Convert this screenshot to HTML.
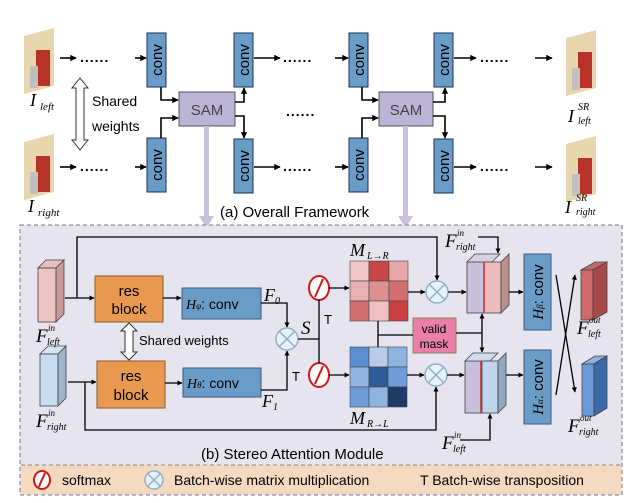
<!DOCTYPE html>
<html><head><meta charset="utf-8"><style>
body{margin:0;background:#fff}
svg{display:block;font-family:"Liberation Sans",sans-serif}
.it{font-family:"Liberation Serif",serif;font-style:italic}
</style></head><body>
<svg width="631" height="503" viewBox="0 0 631 503" xmlns="http://www.w3.org/2000/svg">
<defs>
<marker id="a" viewBox="0 0 10 10" refX="9" refY="5" markerWidth="4" markerHeight="4" orient="auto"><path d="M0,0L10,5L0,10z" fill="#000"/></marker>
<g id="img">
<polygon points="0,8 30,0 30,58 0,66" fill="#e8d6ae"/>
<rect x="12" y="22" width="14" height="36" fill="#b8322a"/>
<rect x="6" y="38" width="8" height="22" fill="#c0c0c0"/>
</g>
<g id="cv"><rect width="19" height="54" fill="#6a9cc8" stroke="#1a3050" stroke-width="1"/></g>
</defs>

<use href="#img" x="24" y="28"/>
<use href="#img" x="24" y="134"/>
<use href="#img" x="566" y="30"/>
<use href="#img" x="566" y="136"/>
<g class="it">
<text x="30" y="106" font-size="18">I</text><text x="40" y="110" font-size="11">left</text>
<text x="28" y="212" font-size="18">I</text><text x="38" y="216" font-size="11">right</text>
<text x="568" y="122" font-size="18">I</text><text x="578" y="110" font-size="10">SR</text><text x="578" y="124" font-size="10">left</text>
<text x="565" y="213" font-size="18">I</text><text x="576" y="201" font-size="10">SR</text><text x="576" y="215" font-size="10">right</text>
</g>

<g font-size="15" fill="#000">
<use href="#cv" x="147" y="33"/><use href="#cv" x="147" y="138"/>
<use href="#cv" x="234" y="33"/><use href="#cv" x="234" y="139"/>
<use href="#cv" x="349" y="33"/><use href="#cv" x="349" y="138"/>
<use href="#cv" x="434" y="33"/><use href="#cv" x="434" y="139"/>
<text transform="translate(162,60) rotate(-90)" text-anchor="middle">conv</text>
<text transform="translate(162,165) rotate(-90)" text-anchor="middle">conv</text>
<text transform="translate(249,60) rotate(-90)" text-anchor="middle">conv</text>
<text transform="translate(249,166) rotate(-90)" text-anchor="middle">conv</text>
<text transform="translate(364,60) rotate(-90)" text-anchor="middle">conv</text>
<text transform="translate(364,165) rotate(-90)" text-anchor="middle">conv</text>
<text transform="translate(449,60) rotate(-90)" text-anchor="middle">conv</text>
<text transform="translate(449,166) rotate(-90)" text-anchor="middle">conv</text>
</g>
<rect x="179" y="92" width="56" height="34" fill="#bcb4d6" stroke="#555" stroke-width="1"/>
<rect x="379" y="92" width="54" height="34" fill="#bcb4d6" stroke="#555" stroke-width="1"/>
<text x="207" y="115" font-size="15" text-anchor="middle" fill="#444">SAM</text>
<text x="406" y="115" font-size="15" text-anchor="middle" fill="#444">SAM</text>
<g fill="#c8c0dc"><rect x="204" y="126" width="5" height="92"/><polygon points="199,216 214,216 206.5,228"/>
<rect x="403" y="126" width="5" height="92"/><polygon points="398,216 413,216 405.5,228"/></g>

<g stroke="#000" stroke-width="1.6" fill="none" marker-end="url(#a)">
<line x1="60" y1="58" x2="76" y2="58"/><line x1="135" y1="58" x2="146" y2="58"/>
<line x1="60" y1="167" x2="76" y2="167"/><line x1="135" y1="167" x2="146" y2="167"/>
<line x1="254" y1="58" x2="280" y2="58"/><line x1="335" y1="58" x2="348" y2="58"/>
<line x1="254" y1="167" x2="280" y2="167"/><line x1="335" y1="167" x2="348" y2="167"/>
<line x1="454" y1="58" x2="476" y2="58"/><line x1="535" y1="58" x2="552" y2="58"/>
<line x1="454" y1="167" x2="476" y2="167"/><line x1="535" y1="167" x2="552" y2="167"/>
<polyline points="161,87 161,100 178,100"/><polyline points="161,138 161,118 178,118"/>
<polyline points="235,102 244,102 244,88"/><polyline points="235,116 244,116 244,138"/>
<polyline points="362,87 362,100 378,100"/><polyline points="362,138 362,118 378,118"/>
<polyline points="433,102 445,102 445,88"/><polyline points="433,116 445,116 445,138"/>
</g>
<g font-size="14" font-weight="bold" letter-spacing="1">
<text x="80" y="62">......</text><text x="80" y="171">......</text>
<text x="283" y="62">......</text><text x="283" y="171">......</text>
<text x="286" y="116">......</text>
<text x="480" y="62">......</text><text x="480" y="171">......</text>
</g>
<polygon points="80,78 88,88 84,88 84,140 88,140 80,150 72,140 76,140 76,88 72,88" fill="#fff" stroke="#333"/>
<text x="92" y="106" font-size="14">Shared</text>
<text x="92" y="131" font-size="14">weights</text>
<text x="220" y="217" font-size="15">(a)  Overall Framework</text>

<rect x="20" y="225" width="602" height="270" fill="#e6e4ee" stroke="#777" stroke-dasharray="4,3"/>
<rect x="21" y="465" width="600" height="29" fill="#f5d9c0"/>
<line x1="21" y1="465" x2="621" y2="465" stroke="#888" stroke-dasharray="4,3"/>

<g stroke="#444" stroke-width="0.8">
<polygon points="38,268 56,268 64,260 46,260" fill="#e7c1c0"/><rect x="38" y="268" width="18" height="54" fill="#ecc4c2"/><polygon points="56,268 64,260 64,314 56,322" fill="#c8999a"/>
<polygon points="40,354 58,354 66,346 48,346" fill="#d8e6f4"/><rect x="40" y="354" width="18" height="52" fill="#c8dcf0"/><polygon points="58,354 66,346 66,398 58,406" fill="#9fb5cc"/>
<polygon points="581,270 593,270 607,262 595,262" fill="#c86868"/><rect x="581" y="270" width="12" height="50" fill="#d06a6a"/><polygon points="593,270 607,262 607,312 593,320" fill="#a84a4a"/>
<polygon points="582,364 594,364 607,356 595,356" fill="#8ab2e0"/><rect x="582" y="364" width="12" height="52" fill="#6a9ad8"/><polygon points="594,364 607,356 607,408 594,416" fill="#3a6aa8"/>
</g>
<g class="it">
<text x="36" y="342" font-size="19">F</text><text x="48" y="331" font-size="9">in</text><text x="47" y="345" font-size="10">left</text>
<text x="36" y="427" font-size="19">F</text><text x="48" y="416" font-size="9">in</text><text x="47" y="430" font-size="10">right</text>
<text x="445" y="247" font-size="19">F</text><text x="457" y="236" font-size="9">in</text><text x="456" y="250" font-size="10">right</text>
<text x="442" y="449" font-size="19">F</text><text x="454" y="438" font-size="9">in</text><text x="453" y="452" font-size="10">left</text>
<text x="577" y="334" font-size="19">F</text><text x="589" y="323" font-size="9">out</text><text x="588" y="337" font-size="10">left</text>
<text x="568" y="432" font-size="19">F</text><text x="580" y="421" font-size="9">out</text><text x="579" y="435" font-size="10">right</text>
<text x="264" y="301" font-size="18">F</text><text x="275" y="304" font-size="10">0</text>
<text x="262" y="407" font-size="18">F</text><text x="273" y="410" font-size="10">1</text>
<text x="301" y="334" font-size="19">S</text>
<text x="350" y="256" font-size="18">M</text><text x="367" y="259" font-size="10">L→R</text>
<text x="350" y="424" font-size="18">M</text><text x="367" y="427" font-size="10">R→L</text>
</g>

<rect x="95" y="276" width="68" height="46" fill="#ea9a50" stroke="#8a5a2a"/>
<rect x="97" y="361" width="68" height="47" fill="#ea9a50" stroke="#8a5a2a"/>
<text x="129" y="296" font-size="15" text-anchor="middle">res</text><text x="129" y="314" font-size="15" text-anchor="middle">block</text>
<text x="131" y="381" font-size="15" text-anchor="middle">res</text><text x="131" y="400" font-size="15" text-anchor="middle">block</text>
<polygon points="129,323 137,331 133,331 133,352 137,352 129,360 121,352 125,352 125,331 121,331" fill="#fff" stroke="#333"/>
<text x="139" y="345" font-size="13">Shared weights</text>
<rect x="182" y="288" width="79" height="31" fill="#6a9cc8" stroke="#3a5a80"/>
<rect x="183" y="368" width="78" height="29" fill="#6a9cc8" stroke="#3a5a80"/>
<text x="186" y="309" font-size="14"><tspan class="it">H</tspan><tspan font-size="9" class="it">φ</tspan>: conv</text>
<text x="187" y="388" font-size="14"><tspan class="it">H</tspan><tspan font-size="9" class="it">θ</tspan>: conv</text>

<g stroke="#444" stroke-width="0.6">
<rect x="350" y="261" width="19" height="20" fill="#f0c8c8"/><rect x="369" y="261" width="20" height="20" fill="#c84848"/><rect x="389" y="261" width="19" height="20" fill="#e8a8a8"/>
<rect x="350" y="281" width="19" height="20" fill="#e8b0b0"/><rect x="369" y="281" width="20" height="20" fill="#dc9090"/><rect x="389" y="281" width="19" height="20" fill="#d27070"/>
<rect x="350" y="301" width="19" height="20" fill="#d27070"/><rect x="369" y="301" width="20" height="20" fill="#f0c0c0"/><rect x="389" y="301" width="19" height="20" fill="#c84040"/>
<rect x="350" y="347" width="19" height="20" fill="#5a8fd0"/><rect x="369" y="347" width="19" height="20" fill="#b8cce8"/><rect x="388" y="347" width="19" height="20" fill="#90b4e0"/>
<rect x="350" y="367" width="19" height="20" fill="#90b4e0"/><rect x="369" y="367" width="19" height="20" fill="#2e5c98"/><rect x="388" y="367" width="19" height="20" fill="#6f9cd8"/>
<rect x="350" y="387" width="19" height="20" fill="#6f9cd8"/><rect x="369" y="387" width="19" height="20" fill="#90b4e0"/><rect x="388" y="387" width="19" height="20" fill="#1e3a68"/>
</g>
<rect x="413" y="318" width="43" height="35" fill="#ea80a8" stroke="#885"/>
<text x="434" y="333" font-size="12" text-anchor="middle">valid</text><text x="434" y="348" font-size="12" text-anchor="middle">mask</text>

<g stroke="#444" stroke-width="0.8">
<rect x="467" y="262" width="17" height="51" fill="#c8c0dc"/><polygon points="467,262 475,254 500,254 492,262" fill="#d8d0e4"/>
<rect x="484" y="262" width="17" height="51" fill="#ecbcbc"/><polygon points="501,262 509,254 509,305 501,313" fill="#b89090"/>
<rect x="465" y="361" width="17" height="52" fill="#c8c0dc"/><polygon points="465,361 473,353 498,353 490,361" fill="#d0dcec"/>
<rect x="482" y="361" width="16" height="52" fill="#c0d4ec"/><polygon points="498,361 506,353 506,405 498,413" fill="#90a8c0"/>
</g>
<line x1="484" y1="262" x2="484" y2="313" stroke="#c03030" stroke-width="1.5"/>
<line x1="481" y1="361" x2="481" y2="413" stroke="#c03030" stroke-width="1.5"/>
<rect x="524" y="254" width="27" height="76" fill="#6a9cc8" stroke="#3a5a80"/>
<rect x="524" y="350" width="27" height="74" fill="#6a9cc8" stroke="#3a5a80"/>
<text transform="translate(543,292) rotate(-90)" font-size="15" text-anchor="middle"><tspan class="it">H</tspan><tspan font-size="9" class="it">β</tspan>: conv</text>
<text transform="translate(543,387) rotate(-90)" font-size="15" text-anchor="middle"><tspan class="it">H</tspan><tspan font-size="9" class="it">α</tspan>: conv</text>

<g stroke="#8fb0c8" stroke-width="1.5" fill="#e8f2fa">
<circle cx="287" cy="339" r="11"/><circle cx="437" cy="292" r="11"/><circle cx="436" cy="375" r="11"/>
</g>
<g stroke="#8fb0c8" stroke-width="1.5">
<path d="M279,331L295,347M295,331L279,347M429,284L445,300M445,284L429,300M428,367L444,383M444,367L428,383"/>
</g>
<g stroke="#d01818" stroke-width="2" fill="#fff">
<ellipse cx="319" cy="288" rx="10" ry="12"/><ellipse cx="319" cy="375" rx="10" ry="12"/>
</g>
<path d="M315,297 C318,290 320,286 323,279 M315,384 C318,377 320,373 323,366" stroke="#d01818" stroke-width="2" fill="none"/>

<g stroke="#000" stroke-width="1.3" fill="none" marker-end="url(#a)">
<polyline points="65,298 94,298"/>
<polyline points="77,298 77,237 437,237 437,280"/>
<line x1="163" y1="298" x2="181" y2="298"/>
<line x1="165" y1="383" x2="182" y2="383"/>
<polyline points="261,303 287,303 287,327"/>
<polyline points="261,390 287,390 287,351"/>
<line x1="329" y1="288" x2="349" y2="288"/>
<line x1="329" y1="375" x2="349" y2="375"/>
<line x1="408" y1="292" x2="425" y2="292"/>
<line x1="407" y1="375" x2="424" y2="375"/>
<line x1="448" y1="292" x2="466" y2="292"/>
<line x1="447" y1="375" x2="464" y2="375"/>
<line x1="68" y1="382" x2="96" y2="382"/>
<polyline points="85,382 85,430 436,430 436,387"/>
<polyline points="478,237 498,237 498,253"/>
<polyline points="460,440 490,440 490,414"/>
<line x1="509" y1="292" x2="523" y2="292"/>
<line x1="506" y1="375" x2="523" y2="375"/>
<line x1="482" y1="333" x2="482" y2="314"/>
<line x1="482" y1="333" x2="482" y2="352"/>
<line x1="556" y1="395" x2="575" y2="275"/>
<line x1="556" y1="275" x2="575" y2="392"/>
</g>
<g stroke="#000" stroke-width="1.3" fill="none">
<line x1="298" y1="339" x2="319" y2="339"/>
<line x1="319" y1="300" x2="319" y2="363"/>
<line x1="378" y1="321" x2="378" y2="347"/>
<line x1="378" y1="335" x2="413" y2="335"/>
<line x1="456" y1="333" x2="482" y2="333"/>
</g>
<text x="292" y="381" font-size="13">T</text>
<text x="324" y="324" font-size="13">T</text>
<text x="201" y="459" font-size="15">(b) Stereo Attention Module</text>

<ellipse cx="42" cy="480" rx="8" ry="9" fill="#fff" stroke="#d01818" stroke-width="2"/>
<path d="M39,487 C41,481 43,478 45,473" stroke="#d01818" stroke-width="2" fill="none"/>
<text x="62" y="485" font-size="14">softmax</text>
<circle cx="154" cy="480" r="9" fill="#e8f2fa" stroke="#8fb0c8" stroke-width="1.5"/>
<path d="M148,474L160,486M160,474L148,486" stroke="#8fb0c8" stroke-width="1.5"/>
<text x="174" y="485" font-size="14">Batch-wise matrix multiplication</text>
<text x="420" y="485" font-size="14">T  Batch-wise transposition</text>
</svg>
</body></html>
